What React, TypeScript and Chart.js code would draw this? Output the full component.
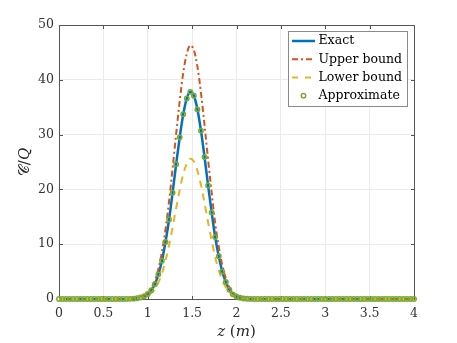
import React, { useEffect, useRef } from "react";
import { Chart, registerables } from "chart.js";

Chart.register(...registerables);

// z grid (m): 0, 0.04, ..., 4.00 (101 samples)
const zGrid: number[] = Array.from({ length: 101 }, (_, i) => Math.round(i * 4) / 100);

const xTicks = [0, 0.5, 1, 1.5, 2, 2.5, 3, 3.5, 4];
const yTicks = [0, 10, 20, 30, 40, 50];

const seriesLabels = ["Exact", "Upper bound", "Lower bound", "Approximate"];

const exact = [
  0, 0, 0, 0, 0, 0, 0, 0, 0, 0,
  0, 0, 0, 0, 0, 0, 0, 0,
  0.01, 0.02, 0.03, 0.06, 0.14, 0.28, 0.5, 0.9, 1.6, 2.7,
  4.5, 7.0, 10.4, 14.5, 19.4, 24.6, 29.5, 33.7, 36.6, 37.8,
  37.1, 34.6, 30.7, 25.9, 20.7, 15.8, 11.3, 7.8, 5.0, 3.1,
  1.7, 0.85, 0.45, 0.22, 0.1, 0.04, 0.02, 0.01,
  0, 0, 0, 0, 0, 0, 0, 0, 0, 0,
  0, 0, 0, 0, 0, 0, 0, 0, 0, 0,
  0, 0, 0, 0, 0, 0, 0, 0, 0, 0,
  0, 0, 0, 0, 0, 0, 0, 0, 0, 0,
  0, 0, 0, 0, 0,
];

const upperBound = [
  0, 0, 0, 0, 0, 0, 0, 0, 0, 0,
  0, 0, 0, 0, 0, 0, 0, 0,
  0.01, 0.02, 0.04, 0.07, 0.17, 0.34, 0.61, 1.1, 2.0, 3.3,
  5.5, 8.6, 12.7, 17.8, 23.8, 30.1, 36.1, 41.3, 44.8, 46.3,
  45.4, 42.4, 37.6, 31.7, 25.4, 19.4, 13.8, 9.6, 6.1, 3.8,
  2.1, 1.04, 0.55, 0.27, 0.12, 0.05, 0.02, 0.01,
  0, 0, 0, 0, 0, 0, 0, 0, 0, 0,
  0, 0, 0, 0, 0, 0, 0, 0, 0, 0,
  0, 0, 0, 0, 0, 0, 0, 0, 0, 0,
  0, 0, 0, 0, 0, 0, 0, 0, 0, 0,
  0, 0, 0, 0, 0,
];

const lowerBound = [
  0, 0, 0, 0, 0, 0, 0, 0, 0, 0,
  0, 0, 0, 0, 0, 0, 0, 0,
  0.01, 0.01, 0.02, 0.04, 0.09, 0.19, 0.34, 0.61, 1.1, 1.8,
  3.0, 4.7, 7.0, 9.8, 13.1, 16.6, 19.9, 22.8, 24.7, 25.6,
  25.1, 23.4, 20.8, 17.5, 14.0, 10.7, 7.6, 5.3, 3.4, 2.1,
  1.15, 0.57, 0.3, 0.15, 0.07, 0.03, 0.01, 0.01,
  0, 0, 0, 0, 0, 0, 0, 0, 0, 0,
  0, 0, 0, 0, 0, 0, 0, 0, 0, 0,
  0, 0, 0, 0, 0, 0, 0, 0, 0, 0,
  0, 0, 0, 0, 0, 0, 0, 0, 0, 0,
  0, 0, 0, 0, 0,
];

const approximate = [
  0, 0, 0, 0, 0, 0, 0, 0, 0, 0,
  0, 0, 0, 0, 0, 0, 0, 0,
  0.01, 0.02, 0.03, 0.06, 0.14, 0.28, 0.5, 0.9, 1.6, 2.7,
  4.5, 7.0, 10.4, 14.5, 19.4, 24.6, 29.5, 33.7, 36.6, 37.8,
  37.1, 34.6, 30.7, 25.9, 20.7, 15.8, 11.3, 7.8, 5.0, 3.1,
  1.7, 0.85, 0.45, 0.22, 0.1, 0.04, 0.02, 0.01,
  0, 0, 0, 0, 0, 0, 0, 0, 0, 0,
  0, 0, 0, 0, 0, 0, 0, 0, 0, 0,
  0, 0, 0, 0, 0, 0, 0, 0, 0, 0,
  0, 0, 0, 0, 0, 0, 0, 0, 0, 0,
  0, 0, 0, 0, 0,
];

const BLUE = "#0072BD";
const ORANGE = "#D95319";
const YELLOW = "#EDB120";
const GREEN = "#77AC30";
const AXIS = "#555555";
const SERIF = "'DejaVu Serif', 'Liberation Serif', serif";

const toPoints = (vals: number[]) => zGrid.map((x, i) => ({ x, y: vals[i] }));

function drawPieces(ctx: CanvasRenderingContext2D, pieces: [string, boolean][], cx: number, cy: number, size: number) {
  const fonts = pieces.map(([, it]) => `${it ? "italic " : ""}${size}px ${SERIF}`);
  let total = 0;
  const widths = pieces.map(([t], i) => {
    ctx.font = fonts[i];
    const w = ctx.measureText(t).width;
    total += w;
    return w;
  });
  let x = cx - total / 2;
  ctx.textBaseline = "middle";
  ctx.textAlign = "left";
  pieces.forEach(([t], i) => {
    ctx.font = fonts[i];
    ctx.fillText(t, x, cy);
    x += widths[i];
  });
}

const framePlugin = {
  id: "frame",
  beforeDatasetsDraw(chart: any) {
    const { ctx, chartArea: a, scales } = chart;
    const L = Math.round(a.left) + 0.5;
    const R = Math.round(a.right) + 0.5;
    const T = Math.round(a.top) + 0.5;
    const B = Math.round(a.bottom) + 0.5;
    ctx.save();
    ctx.strokeStyle = AXIS;
    ctx.lineWidth = 1;
    ctx.beginPath();
    ctx.rect(L, T, R - L, B - T);
    const tl = 3.5;
    xTicks.forEach((v) => {
      const px = Math.round(scales.x.getPixelForValue(v)) + 0.5;
      ctx.moveTo(px, B);
      ctx.lineTo(px, B - tl);
      ctx.moveTo(px, T);
      ctx.lineTo(px, T + tl);
    });
    yTicks.forEach((v) => {
      const py = Math.round(scales.y.getPixelForValue(v)) + 0.5;
      ctx.moveTo(L, py);
      ctx.lineTo(L + tl, py);
      ctx.moveTo(R, py);
      ctx.lineTo(R - tl, py);
    });
    ctx.stroke();

    // axis titles
    ctx.fillStyle = "#262626";
    drawPieces(ctx, [["z", true], [" (", false], ["m", true], [")", false]], (a.left + a.right) / 2, 332, 15);
    ctx.save();
    ctx.translate(25, (a.top + a.bottom) / 2);
    ctx.rotate(-Math.PI / 2);
    drawPieces(ctx, [["\u{1D49E}", false], ["/", false], ["Q", true]], 0, 0, 15);
    ctx.restore();
    ctx.restore();
  },
};

const legendPlugin = {
  id: "customLegend",
  afterDraw(chart: any) {
    const { ctx } = chart;
    ctx.save();
    const bx = 288.5, by = 31.5, bw = 119, bh = 75;
    ctx.fillStyle = "#ffffff";
    ctx.fillRect(bx, by, bw, bh);
    ctx.strokeStyle = "#8a8a8a";
    ctx.lineWidth = 1;
    ctx.strokeRect(bx, by, bw, bh);
    const rows = [41, 59.3, 77.5, 95.7];
    const x0 = 292, x1 = 315;
    // Exact
    ctx.lineCap = "butt";
    ctx.strokeStyle = BLUE;
    ctx.lineWidth = 2.5;
    ctx.setLineDash([]);
    ctx.beginPath(); ctx.moveTo(x0, rows[0]); ctx.lineTo(x1, rows[0]); ctx.stroke();
    // Upper
    ctx.strokeStyle = ORANGE;
    ctx.lineWidth = 2;
    ctx.setLineDash([6, 3, 2, 3]);
    ctx.beginPath(); ctx.moveTo(x0, rows[1]); ctx.lineTo(x1, rows[1]); ctx.stroke();
    // Lower
    ctx.strokeStyle = YELLOW;
    ctx.setLineDash([6, 7]);
    ctx.beginPath(); ctx.moveTo(x0, rows[2]); ctx.lineTo(x1 + 1, rows[2]); ctx.stroke();
    ctx.setLineDash([]);
    // Approx
    ctx.strokeStyle = GREEN;
    ctx.lineWidth = 1.5;
    ctx.beginPath(); ctx.arc(303.5, rows[3], 2.2, 0, Math.PI * 2); ctx.stroke();
    // labels
    ctx.fillStyle = "#000000";
    ctx.font = `12.5px ${SERIF}`;
    ctx.textBaseline = "middle";
    ctx.textAlign = "left";
    seriesLabels.forEach((t, i) => ctx.fillText(t, 318.5, rows[i]));
    ctx.restore();
  },
};

export default function App() {
  const ref = useRef<HTMLCanvasElement>(null);
  useEffect(() => {
    if (!ref.current) return;
    const tickFont = { family: SERIF, size: 12.5 };
    const chart = new Chart(ref.current, {
      type: "line",
      data: {
        datasets: [
          {
            label: seriesLabels[0], data: toPoints(exact), borderColor: BLUE, borderWidth: 2.5,
            pointRadius: 0, cubicInterpolationMode: "monotone", order: 3, clip: false,
          } as any,
          {
            label: seriesLabels[1], data: toPoints(upperBound), borderColor: ORANGE, borderWidth: 2,
            borderDash: [6, 3, 2, 3], pointRadius: 0, cubicInterpolationMode: "monotone", order: 2, clip: false,
          } as any,
          {
            label: seriesLabels[2], data: toPoints(lowerBound), borderColor: YELLOW, borderWidth: 2,
            borderDash: [7, 6], pointRadius: 0, cubicInterpolationMode: "monotone", order: 1, clip: false,
          } as any,
          {
            label: seriesLabels[3], data: toPoints(approximate), showLine: false, borderColor: GREEN,
            backgroundColor: "rgba(0,0,0,0)", pointRadius: 2.2, pointBorderWidth: 1.5,
            pointBorderColor: GREEN, pointBackgroundColor: "rgba(0,0,0,0)", order: 0, clip: false,
          } as any,
        ],
      },
      options: {
        responsive: false,
        animation: false,
        layout: { padding: { top: 25, right: 43, left: 0, bottom: 0 } },
        plugins: { legend: { display: false }, tooltip: { enabled: false } },
        scales: {
          x: {
            type: "linear", min: 0, max: 4,
            afterBuildTicks: (s: any) => { s.ticks = xTicks.map((v) => ({ value: v })); },
            afterFit: (s: any) => { s.height = 44; },
            grid: { color: "#ebebeb", drawTicks: false },
            border: { display: false },
            ticks: {
              padding: 7, font: tickFont, color: "#333333", maxRotation: 0, autoSkip: false,
              callback: (v: any) => String(v),
            },
          },
          y: {
            type: "linear", min: 0, max: 50,
            afterBuildTicks: (s: any) => { s.ticks = yTicks.map((v) => ({ value: v })); },
            afterFit: (s: any) => { s.width = 59; },
            grid: { color: "#ebebeb", drawTicks: false },
            border: { display: false },
            ticks: {
              padding: 5, font: tickFont, color: "#333333", autoSkip: false,
              callback: (v: any) => String(v),
            },
          },
        },
      },
      plugins: [framePlugin, legendPlugin],
    });
    return () => chart.destroy();
  }, []);
  return (
    <div style={{ position: "fixed", left: 0, top: 0, width: 457, height: 343, background: "#ffffff" }}>
      <canvas ref={ref} width={457} height={343} style={{ display: "block", width: 457, height: 343 }} />
    </div>
  );
}
